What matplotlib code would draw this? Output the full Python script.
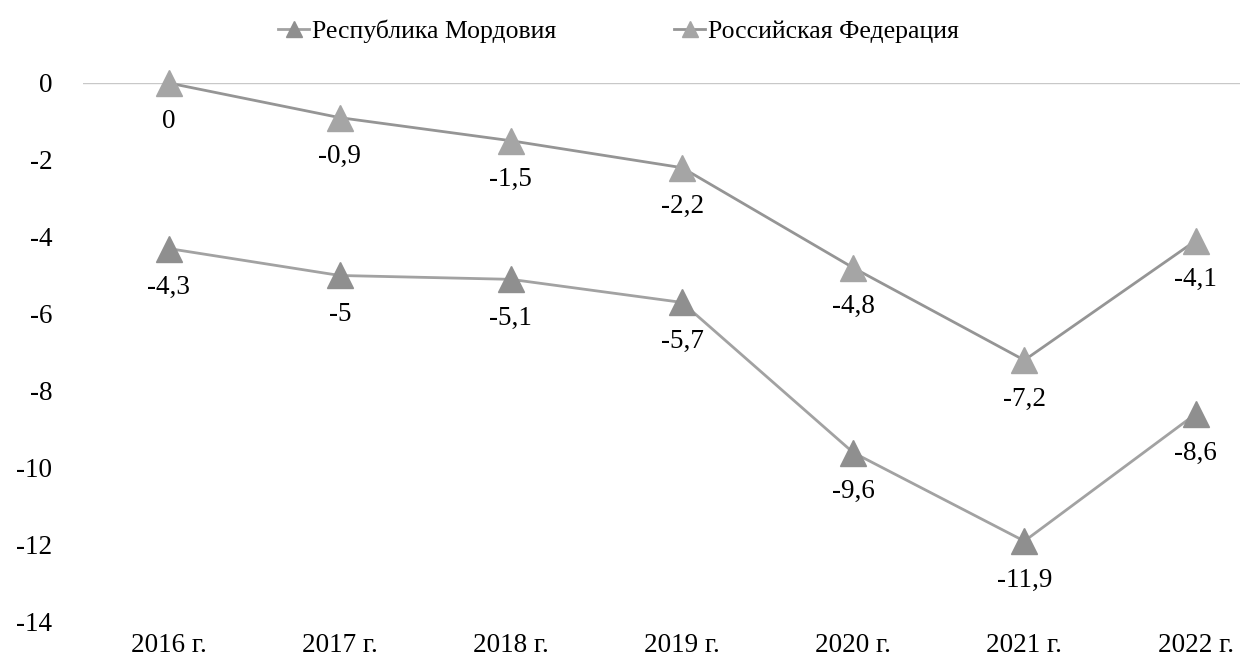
import matplotlib
matplotlib.use("Agg")
from matplotlib import pyplot as plt

plt.rcParams["font.family"] = "Liberation Serif"
plt.rcParams["axes.unicode_minus"] = False

# Data ─────────────────────────────────────────────────────────────────────────
years = ["2016 г.", "2017 г.", "2018 г.", "2019 г.", "2020 г.", "2021 г.", "2022 г."]
mordovia = [-4.3, -5.0, -5.1, -5.7, -9.6, -11.9, -8.6]
russia = [0.0, -0.9, -1.5, -2.2, -4.8, -7.2, -4.1]
y_ticks = [0, -2, -4, -6, -8, -10, -12, -14]


def fmt(v):
    s = f"{v:g}"
    return s.replace(".", ",")


# Plot ─────────────────────────────────────────────────────────────────────────
fig = plt.figure(figsize=(12.47, 6.65), dpi=100)
ax = fig.add_axes([0.0666, 0.0647, 0.9278, 0.8105])

x = range(len(years))
ax.axhline(0, color="#c8c8c8", lw=1.0, zorder=1)

ax.plot(x, mordovia, color="#a2a2a2", lw=2.0, marker="^", ms=19,
        mfc="#8f8f8f", mec="#8f8f8f", label="Республика Мордовия", clip_on=False, zorder=3)
ax.plot(x, russia, color="#959595", lw=2.0, marker="^", ms=19,
        mfc="#a5a5a5", mec="#a5a5a5", label="Российская Федерация", clip_on=False, zorder=3)

for series in (mordovia, russia):
    for xi, v in zip(x, series):
        ax.annotate(fmt(v), (xi, v), xytext=(0, -28), textcoords="offset points",
                    ha="center", va="center", fontsize=19.5)

ax.set_xlim(-0.5, 6.26)
ax.set_ylim(-14, 0)
ax.set_xticks(list(x))
ax.set_xticklabels(years, fontsize=19.5)
ax.set_yticks(y_ticks)
ax.set_yticklabels([fmt(t) for t in y_ticks], fontsize=19.5)
ax.tick_params(length=0)
ax.tick_params(axis="x", pad=8)
ax.tick_params(axis="y", pad=22)
for s in ax.spines.values():
    s.set_visible(False)

fig.legend(loc="upper center", bbox_to_anchor=(0.496, 1.005), ncol=2, frameon=False,
           fontsize=18.5, handlelength=1.2, markerscale=0.6, columnspacing=4.6,
           handletextpad=0.1)

fig.savefig("out.png", dpi=100)
